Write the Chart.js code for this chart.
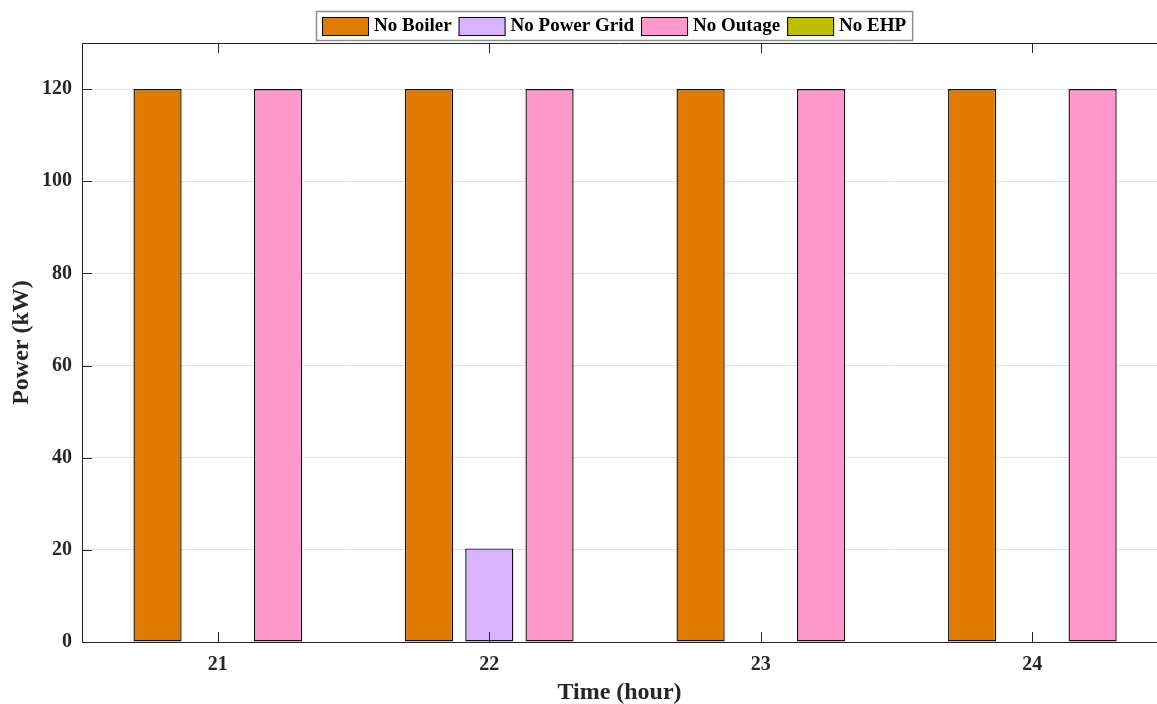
<!DOCTYPE html>
<html>
<head>
<meta charset="utf-8">
<script src="https://cdn.jsdelivr.net/npm/chart.js@4.4.1/dist/chart.umd.min.js"></script>
<style>
  html, body { margin: 0; padding: 0; background: #fff; }
  #wrap { width: 1157px; height: 704px; }
</style>
</head>
<body>
<div id="wrap"><canvas id="myChart"></canvas></div>
<script>
// datos
var horas = [21, 22, 23, 24];
var noBoiler = [120, 120, 120, 120];
var noPowerGrid = [0, 20.3, 0, 0];
var noOutage = [120, 120, 120, 120];
var noEHP = [0, 0, 0, 0];
var hueco = [0, 0, 0, 0]; // serie vacia, ocupa el primer lugar del grupo
var yTicks = [0, 20, 40, 60, 80, 100, 120];

var colorTexto = '#262626';
var fuente = 'Liberation Serif';

function puntos(serie) {
  return serie.map(function (v, i) { return { x: horas[i], y: v }; });
}

var marcoPlugin = {
  id: 'marco',
  afterDatasetsDraw: function (chart) {
    var ctx = chart.ctx;
    var a = chart.chartArea;
    var sx = chart.scales.x, sy = chart.scales.y;
    ctx.save();
    ctx.strokeStyle = colorTexto;
    ctx.lineWidth = 1;
    ctx.beginPath();
    // linea superior
    ctx.moveTo(a.left, a.top + 0.5);
    ctx.lineTo(a.right, a.top + 0.5);
    // marcas hacia adentro
    for (var i = 0; i < horas.length; i++) {
      var px = Math.round(sx.getPixelForValue(horas[i])) + 0.5;
      ctx.moveTo(px, a.bottom);
      ctx.lineTo(px, a.bottom - 10);
      ctx.moveTo(px, a.top);
      ctx.lineTo(px, a.top + 10);
    }
    for (var j = 0; j < yTicks.length; j++) {
      var py = Math.round(sy.getPixelForValue(yTicks[j])) + 0.5;
      ctx.moveTo(a.left, py);
      ctx.lineTo(a.left + 10, py);
    }
    ctx.stroke();
    ctx.restore();
  },
  afterDraw: function (chart) {
    var ctx = chart.ctx;
    var items = chart.data.datasets.filter(function (d) { return d.label; });
    ctx.save();
    ctx.font = 'bold 19px ' + fuente;
    var sw = 47, sh = 19, gapTxt = 5, gapItem = 7, padBox = 6;
    var total = padBox * 2;
    items.forEach(function (d, i) {
      total += sw + gapTxt + ctx.measureText(d.label).width + (i < items.length - 1 ? gapItem : 0);
    });
    var x0 = Math.round(614 - total / 2);
    var top = 11, bottom = 40;
    ctx.fillStyle = '#fff';
    ctx.fillRect(x0, top, total, bottom - top);
    ctx.strokeStyle = '#8f8f8f';
    ctx.lineWidth = 1.5;
    ctx.strokeRect(x0 + 0.5, top + 0.5, total, bottom - top);
    var x = x0 + padBox;
    var cy = (top + bottom) / 2 + 1;
    items.forEach(function (d) {
      ctx.fillStyle = d.backgroundColor;
      ctx.fillRect(x, cy - sh / 2, sw, sh);
      ctx.strokeStyle = '#000';
      ctx.lineWidth = 1;
      ctx.strokeRect(x + 0.5, cy - sh / 2 + 0.5, sw - 1, sh - 1);
      x += sw + gapTxt;
      ctx.fillStyle = '#000';
      ctx.textBaseline = 'middle';
      ctx.textAlign = 'left';
      ctx.fillText(d.label, x, cy);
      x += ctx.measureText(d.label).width + gapItem;
    });
    ctx.restore();
  }
};

var ctx = document.getElementById('myChart');

new Chart(ctx, {
  type: 'bar',
  data: {
    datasets: [
      { label: '', data: puntos(hueco), backgroundColor: 'rgba(0,0,0,0)', borderWidth: 0 },
      { label: 'No Boiler', data: puntos(noBoiler), backgroundColor: 'rgb(224, 123, 0)', borderColor: '#111', borderWidth: 1.4 },
      { label: 'No Power Grid', data: puntos(noPowerGrid), backgroundColor: 'rgb(217, 179, 255)', borderColor: '#111', borderWidth: 1.4 },
      { label: 'No Outage', data: puntos(noOutage), backgroundColor: 'rgb(255, 153, 204)', borderColor: '#111', borderWidth: 1.4 },
      { label: 'No EHP', data: puntos(noEHP), backgroundColor: 'rgb(191, 191, 0)', borderColor: '#111', borderWidth: 1.4 }
    ]
  },
  options: {
    responsive: true,
    maintainAspectRatio: false,
    animation: false,
    layout: { padding: { top: 43, right: 0, bottom: 0, left: 0 } },
    datasets: {
      bar: { categoryPercentage: 1.109, barPercentage: 0.8, borderSkipped: false }
    },
    plugins: {
      legend: { display: false },
      tooltip: { enabled: false }
    },
    scales: {
      x: {
        type: 'linear',
        min: 20.5,
        max: 24.459,
        offset: false,
        grid: { display: false, drawTicks: false },
        border: { display: true, color: colorTexto, width: 1 },
        ticks: {
          padding: 11,
          color: colorTexto,
          font: { family: fuente, size: 20, weight: 'bold' }
        },
        afterBuildTicks: function (s) { s.ticks = horas.map(function (v) { return { value: v }; }); },
        afterFit: function (s) { s.height = 62; },
        title: {
          display: true,
          text: 'Time (hour)',
          color: colorTexto,
          font: { family: fuente, size: 24, weight: 'bold', lineHeight: 1 },
          padding: { top: 0, bottom: -1 }
        }
      },
      y: {
        min: 0,
        max: 130,
        grid: { color: '#e3e3e3', lineWidth: 1, drawTicks: false },
        border: { display: true, color: colorTexto, width: 1 },
        ticks: {
          padding: 10,
          color: colorTexto,
          font: { family: fuente, size: 20, weight: 'bold' }
        },
        afterBuildTicks: function (s) { s.ticks = yTicks.map(function (v) { return { value: v }; }); },
        afterFit: function (s) { s.width = 82; },
        title: {
          display: true,
          text: 'Power (kW)',
          color: colorTexto,
          font: { family: fuente, size: 24, weight: 'bold', lineHeight: 1 },
          padding: { top: 10, bottom: 0 }
        }
      }
    }
  },
  plugins: [marcoPlugin]
});
</script>
</body>
</html>
